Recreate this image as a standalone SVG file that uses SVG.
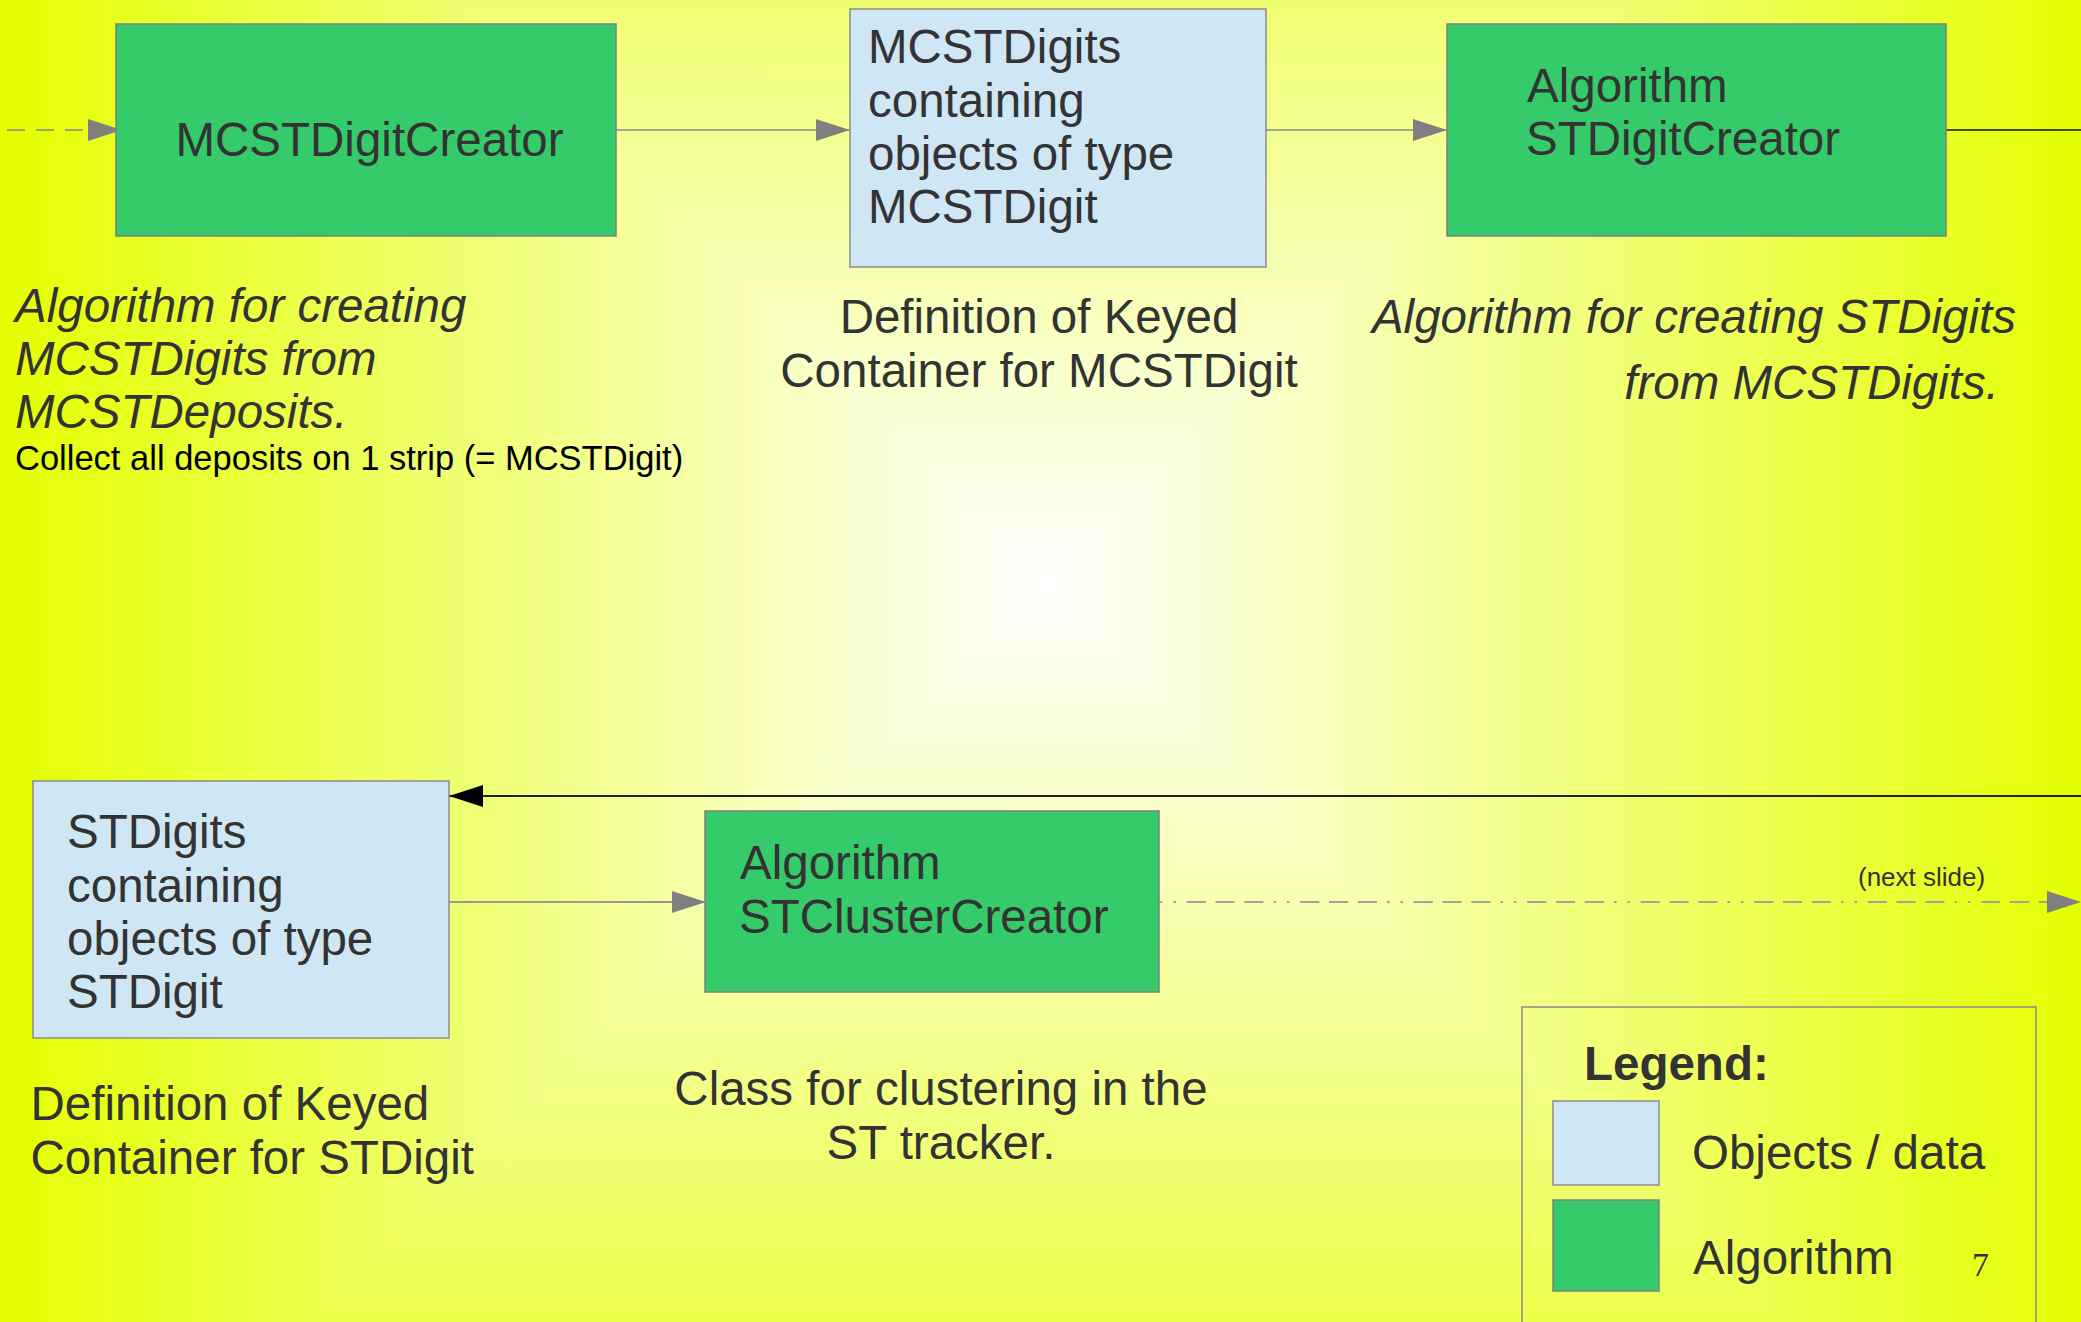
<svg xmlns="http://www.w3.org/2000/svg" width="2081" height="1322" viewBox="0 0 2081 1322">
  <defs>
    <!-- square gradient backdrop, built from four linear ramps meeting on the diagonals -->
    <linearGradient id="bgL" gradientUnits="userSpaceOnUse" x1="1045" y1="0" x2="0" y2="0">
      <stop offset="0" stop-color="#ffffff"/>
      <stop offset="1" stop-color="#e4ff00"/>
    </linearGradient>
    <linearGradient id="bgR" gradientUnits="userSpaceOnUse" x1="1045" y1="0" x2="2090" y2="0">
      <stop offset="0" stop-color="#ffffff"/>
      <stop offset="1" stop-color="#e4ff00"/>
    </linearGradient>
    <linearGradient id="bgT" gradientUnits="userSpaceOnUse" x1="0" y1="585" x2="0" y2="-460">
      <stop offset="0" stop-color="#ffffff"/>
      <stop offset="1" stop-color="#e4ff00"/>
    </linearGradient>
    <linearGradient id="bgB" gradientUnits="userSpaceOnUse" x1="0" y1="585" x2="0" y2="1630">
      <stop offset="0" stop-color="#ffffff"/>
      <stop offset="1" stop-color="#e4ff00"/>
    </linearGradient>
    <marker id="arrowGray" markerUnits="userSpaceOnUse" markerWidth="34" markerHeight="22" refX="34" refY="11" orient="auto">
      <path d="M0,0 L34,11 L0,22 Z" fill="#808080"/>
    </marker>
    <marker id="arrowBlack" markerUnits="userSpaceOnUse" markerWidth="34" markerHeight="22" refX="34" refY="11" orient="auto">
      <path d="M0,0 L34,11 L0,22 Z" fill="#000000"/>
    </marker>
    <style>
      text { font-family: "Liberation Sans", Arial, sans-serif; fill: #333333; }
      .big { font-size: 47.5px; }
      .ital { font-size: 47.5px; font-style: italic; }
      .mid { text-anchor: middle; }
      .algo { fill: #35cb6a; stroke: #7f7f7f; stroke-width: 1.5; }
      .data { fill: #cfe6f4; stroke: #8c8c8c; stroke-width: 1.5; }
      .conn { fill: none; stroke: #888888; stroke-width: 1.3; }
    </style>
  </defs>

  <!-- backdrop -->
  <rect x="0" y="0" width="1046" height="1322" fill="url(#bgL)"/>
  <rect x="1045" y="0" width="1036" height="1322" fill="url(#bgR)"/>
  <polygon points="1045,585 460,0 1630,0" fill="url(#bgT)"/>
  <polygon points="1045,585 308,1322 1782,1322" fill="url(#bgB)"/>

  <!-- connectors -->
  <g id="connectors">
    <path class="conn" d="M7,130 H122" stroke-dasharray="18 11" marker-end="url(#arrowGray)"/>
    <path class="conn" d="M616,130 H850" marker-end="url(#arrowGray)"/>
    <path class="conn" d="M1266,130 H1447" marker-end="url(#arrowGray)"/>
    <path d="M1946,130 H2081" fill="none" stroke="#111111" stroke-width="1.5"/>
    <path d="M2081,796 H449" fill="none" stroke="#222222" stroke-width="1.8" marker-end="url(#arrowBlack)"/>
    <path d="M449,902 H706" fill="none" stroke="#999999" stroke-width="2" marker-end="url(#arrowGray)"/>
    <path d="M1159,902 H2081" fill="none" stroke="#a3a39b" stroke-width="2" stroke-dasharray="19.1 9.7 19.1 9.7 19.1 10 2.7 10.7 2.7 10.7" stroke-dashoffset="85.8" marker-end="url(#arrowGray)"/>
    <text x="1858" y="886" font-size="26">(next slide)</text>
  </g>

  <!-- MCSTDigitCreator -->
  <g id="mcstDigitCreator">
    <rect class="algo" x="116" y="24" width="500" height="212"/>
    <text class="big mid" x="369.5" y="156">MCSTDigitCreator</text>
    <text class="ital" x="15" y="322">Algorithm for creating</text>
    <text class="ital" x="15" y="375">MCSTDigits from</text>
    <text class="ital" x="15" y="428">MCSTDeposits.</text>
    <text x="15" y="470" font-size="34.5" style="fill:#000000">Collect all deposits on 1 strip (= MCSTDigit)</text>
  </g>

  <!-- MCSTDigits container -->
  <g id="mcstDigits">
    <rect class="data" x="850" y="9" width="416" height="258"/>
    <text class="big" x="868" y="63">MCSTDigits</text>
    <text class="big" x="868" y="117">containing</text>
    <text class="big" x="868" y="170">objects of type</text>
    <text class="big" x="868" y="223">MCSTDigit</text>
    <text class="big mid" x="1039" y="333">Definition of Keyed</text>
    <text class="big mid" x="1039" y="387">Container for MCSTDigit</text>
  </g>

  <!-- STDigitCreator -->
  <g id="stDigitCreator">
    <rect class="algo" x="1447" y="24" width="499" height="212"/>
    <text class="big" x="1527" y="102">Algorithm</text>
    <text class="big" x="1526" y="155">STDigitCreator</text>
    <text class="ital" x="2016" y="333" text-anchor="end">Algorithm for creating STDigits</text>
    <text class="ital" x="1999" y="399" text-anchor="end">from MCSTDigits.</text>
  </g>

  <!-- STDigits container -->
  <g id="stDigits">
    <rect class="data" x="33" y="781" width="416" height="257"/>
    <text class="big" x="67" y="848">STDigits</text>
    <text class="big" x="67" y="902">containing</text>
    <text class="big" x="67" y="955">objects of type</text>
    <text class="big" x="67" y="1008">STDigit</text>
    <text class="big" x="30.5" y="1120">Definition of Keyed</text>
    <text class="big" x="30.5" y="1174">Container for STDigit</text>
  </g>

  <!-- STClusterCreator -->
  <g id="stClusterCreator">
    <rect class="algo" x="705" y="811" width="454" height="181"/>
    <text class="big" x="740" y="879">Algorithm</text>
    <text class="big" x="739" y="933">STClusterCreator</text>
    <text class="big mid" x="941" y="1105">Class for clustering in the</text>
    <text class="big mid" x="941" y="1159">ST tracker.</text>
  </g>

  <!-- legend -->
  <g id="legend">
    <rect x="1522" y="1007" width="514" height="340" fill="none" stroke="#8a8a8a" stroke-width="1.5"/>
    <text class="big" x="1584" y="1080" font-weight="bold">Legend:</text>
    <rect class="data" x="1553" y="1101" width="106" height="84"/>
    <rect class="algo" x="1553" y="1200" width="106" height="91"/>
    <text class="big" x="1692" y="1169">Objects / data</text>
    <text class="big" x="1693" y="1274">Algorithm</text>
  </g>

  <!-- page number -->
  <text x="1972" y="1276" font-size="34" style="font-family:'Liberation Serif','Times New Roman',serif">7</text>
</svg>
